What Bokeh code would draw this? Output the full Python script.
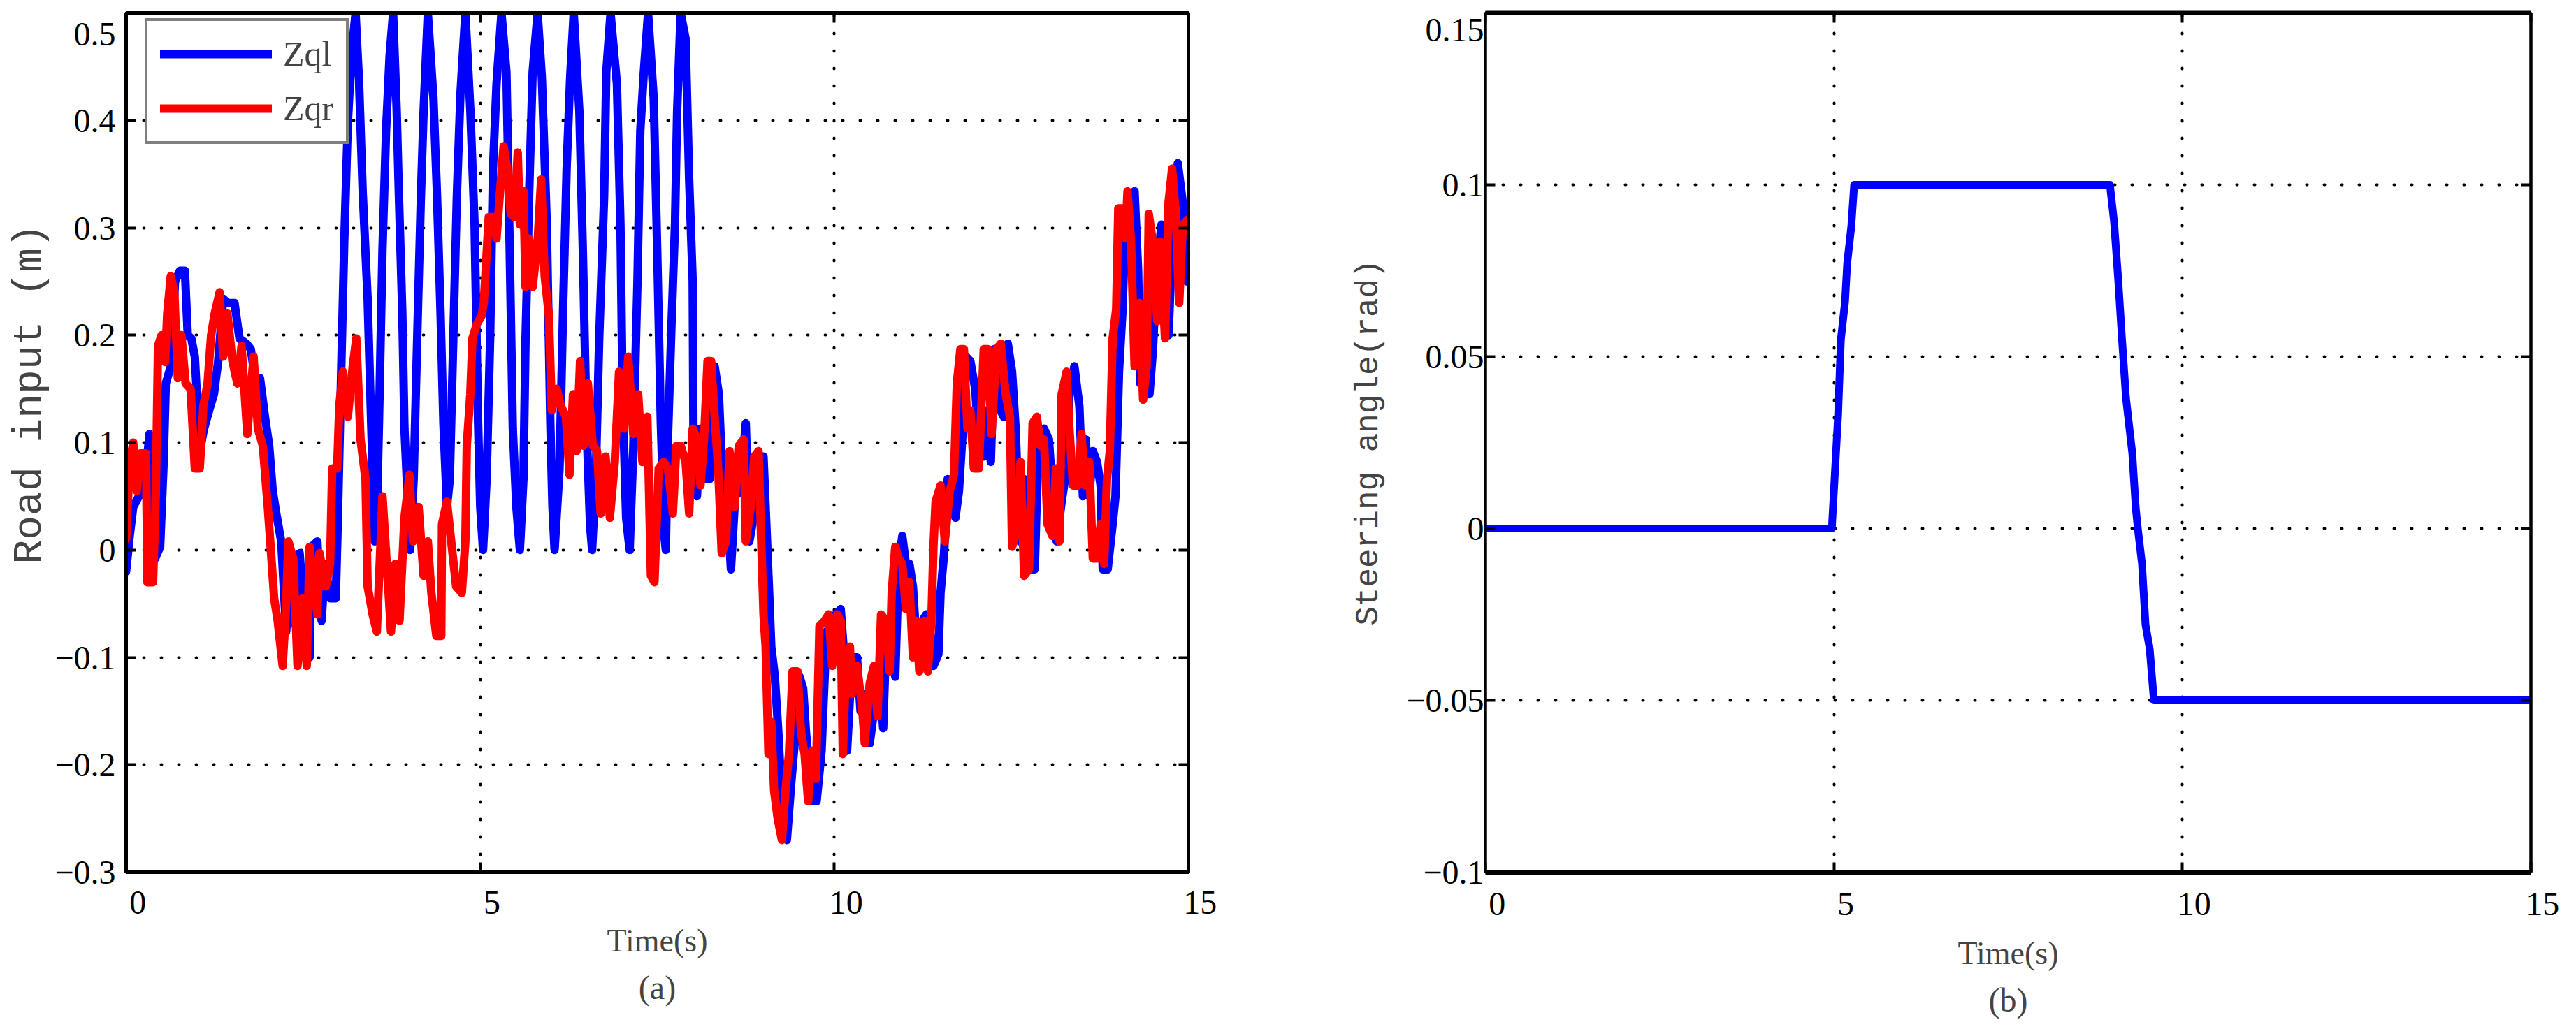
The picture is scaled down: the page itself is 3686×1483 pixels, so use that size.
from bokeh.plotting import figure
from bokeh.models import Range1d, FixedTicker, LinearAxis, Legend, LegendItem, Title
from bokeh.layouts import row
from bokeh.embed import file_html
from bokeh.resources import INLINE

# ---------------- data: panel (a) road input ----------------
zqr_t = [0.0, 0.05, 0.1, 0.15, 0.2, 0.28, 0.3, 0.38, 0.42, 0.45, 0.5, 0.55, 0.58, 0.63, 0.68, 0.73, 0.78, 0.84,
         0.91, 0.97, 1.04, 1.09, 1.15, 1.2, 1.25, 1.32, 1.37, 1.43, 1.5, 1.57, 1.63, 1.71, 1.8, 1.86, 1.93, 2.0,
         2.04, 2.09, 2.14, 2.21, 2.26, 2.29, 2.36, 2.42, 2.49, 2.55, 2.59, 2.65, 2.7, 2.73, 2.82, 2.88, 2.91, 2.98,
         3.01, 3.06, 3.13, 3.2, 3.25, 3.31, 3.38, 3.41, 3.48, 3.54, 3.62,
         3.74, 3.8, 3.86, 3.93, 4.0, 4.05, 4.13, 4.2, 4.26, 4.31, 4.38, 4.45, 4.46, 4.53, 4.59, 4.66, 4.74, 4.79,
         4.81, 4.86, 4.89, 4.95, 5.02, 5.05, 5.12, 5.18, 5.23, 5.28, 5.33, 5.38, 5.43, 5.48, 5.53, 5.56, 5.61, 5.64,
         5.69, 5.74, 5.81, 5.86, 5.91, 5.97, 6.01, 6.08, 6.14, 6.21, 6.26, 6.31, 6.36, 6.41, 6.46, 6.52, 6.59, 6.65,
         6.7, 6.77, 6.83, 6.9, 6.96, 7.03, 7.09, 7.16, 7.23, 7.29, 7.36, 7.41,
         7.46, 7.52, 7.59, 7.65, 7.72, 7.77, 7.83, 7.9, 7.95, 8.0, 8.06, 8.11, 8.16, 8.21, 8.26, 8.31, 8.36, 8.41,
         8.47, 8.52, 8.59, 8.65, 8.72, 8.75, 8.82, 8.87, 8.93, 8.97, 9.0, 9.03, 9.07, 9.11, 9.15, 9.2, 9.26, 9.31,
         9.36, 9.41, 9.48, 9.53, 9.58, 9.63, 9.69, 9.74, 9.79, 9.86, 9.92, 9.97, 10.04, 10.09, 10.12, 10.17, 10.22,
         10.25, 10.32, 10.39, 10.43, 10.5, 10.56, 10.61, 10.66, 10.73, 10.78, 10.81, 10.86, 10.91, 10.96, 11.01,
         11.06, 11.11, 11.16,
         11.2, 11.27, 11.32, 11.37, 11.4, 11.43, 11.5, 11.56, 11.63, 11.69, 11.73, 11.78, 11.83, 11.88, 11.92,
         11.97, 12.04, 12.11, 12.17, 12.22, 12.29, 12.35, 12.42, 12.48, 12.51, 12.58, 12.63, 12.68, 12.75, 12.8,
         12.86, 12.91, 12.96, 13.01, 13.08, 13.13, 13.18, 13.21, 13.28, 13.32, 13.37, 13.44, 13.49, 13.54, 13.6,
         13.65, 13.71, 13.76, 13.81, 13.85, 13.89, 13.93, 13.98, 14.01, 14.06, 14.11, 14.14, 14.19, 14.24, 14.31,
         14.36, 14.41, 14.44, 14.49, 14.56, 14.6, 14.67, 14.72, 14.77, 14.82, 14.87, 14.92, 15.0]
zqr_v = [0.01, 0.08, 0.10, 0.055, 0.09, 0.09, -0.03, -0.03, 0.055, 0.19, 0.20, 0.175, 0.22, 0.255, 0.24, 0.16, 0.20,
         0.155, 0.15, 0.076, 0.076, 0.134, 0.155, 0.20, 0.22, 0.24, 0.18, 0.22, 0.176, 0.155, 0.19, 0.108, 0.18,
         0.113, 0.097, 0.04, 0.003, -0.045, -0.066, -0.108, -0.05, 0.008, -0.008, -0.108, -0.045, -0.108, 0.003,
         -0.03, -0.06, -0.003, -0.034, -0.013, 0.076, 0.076, 0.134, 0.166, 0.124, 0.171, 0.197, 0.103, 0.066,
         -0.034, -0.06, -0.076, 0.05,
         -0.076, -0.013, -0.066, 0.03, 0.07, 0.008, 0.04, -0.024, 0.008, -0.04, -0.08, -0.08, 0.024, 0.045, 0.008,
         -0.034, -0.04, 0.008, 0.097, 0.145, 0.197, 0.21, 0.218, 0.23, 0.31, 0.31, 0.29, 0.334, 0.376, 0.355,
         0.313, 0.31, 0.37, 0.303, 0.334, 0.245, 0.29, 0.245, 0.287, 0.345, 0.255, 0.218, 0.13, 0.15, 0.134, 0.124,
         0.07, 0.145, 0.092, 0.176, 0.097, 0.155, 0.097, 0.092, 0.034, 0.087, 0.03, 0.082, 0.166, 0.113, 0.18,
         0.108, 0.145, 0.082, 0.124, -0.024,
         -0.03, 0.076, 0.082, 0.076, 0.034, 0.097, 0.097, 0.082, 0.034, 0.113, 0.103, 0.06, 0.103, 0.176, 0.176,
         0.124, 0.076, -0.003, 0.008, 0.092, 0.04, 0.097, 0.103, 0.008, 0.04, 0.087, 0.092, 0.003, -0.06, -0.09,
         -0.19, -0.16, -0.224, -0.25, -0.27, -0.224, -0.19, -0.113, -0.113, -0.17, -0.19, -0.234, -0.187, -0.213,
         -0.071, -0.066, -0.06, -0.108, -0.06, -0.066, -0.19, -0.1, -0.09, -0.134, -0.108, -0.145, -0.18, -0.124,
         -0.108, -0.155, -0.06, -0.066, -0.113, -0.04, 0.003, -0.008, -0.013, -0.055, -0.03, -0.1, -0.066,
         -0.113, -0.066, -0.113, -0.066, 0.003, 0.045, 0.06, 0.008, 0.055, 0.07, 0.155, 0.187, 0.187, 0.113, 0.13,
         0.076, 0.076, 0.187, 0.187, 0.108, 0.187, 0.192, 0.145, 0.124, 0.003, 0.018, 0.082, -0.024, -0.018, 0.118,
         0.124, 0.097, 0.103, 0.024, 0.013, 0.076, 0.008, 0.145, 0.166, 0.113, 0.06, 0.06, 0.108, 0.06, 0.082,
         -0.008, -0.008, 0.024, -0.013, 0.066, 0.092, 0.197, 0.224, 0.318, 0.318, 0.29, 0.334, 0.287, 0.171, 0.23,
         0.14, 0.171, 0.313, 0.29, 0.213, 0.287, 0.197, 0.324, 0.355, 0.313, 0.23, 0.303, 0.308]

zql_t = [0.0, 0.05, 0.1, 0.18, 0.25, 0.33, 0.38, 0.41, 0.48, 0.53, 0.56, 0.63, 0.69, 0.76, 0.83, 0.87, 0.92, 0.97,
         1.04, 1.1, 1.19, 1.24, 1.3, 1.37, 1.43, 1.53, 1.6, 1.7, 1.76, 1.83, 1.89, 1.96, 2.02, 2.07, 2.12, 2.19,
         2.26, 2.32, 2.39, 2.45, 2.52, 2.59, 2.62, 2.7, 2.76, 2.81, 2.88, 2.96, 2.99, 3.04, 3.08, 3.13, 3.18, 3.24,
         3.29, 3.34, 3.41, 3.46, 3.51, 3.54, 3.57, 3.62, 3.67, 3.72, 3.77,
         3.82, 3.85, 3.9, 3.93, 3.98, 4.01, 4.06, 4.11, 4.16, 4.2, 4.26, 4.34, 4.39, 4.44, 4.48, 4.53, 4.57, 4.62,
         4.67, 4.72, 4.79, 4.86, 4.92, 4.97, 5.0, 5.04, 5.09, 5.14, 5.18, 5.23, 5.3, 5.37, 5.41, 5.46, 5.51, 5.56,
         5.61, 5.64, 5.69, 5.74, 5.81, 5.87, 5.94, 5.99, 6.02, 6.05, 6.12, 6.17, 6.22, 6.27, 6.32, 6.4, 6.45, 6.5,
         6.55, 6.58, 6.63, 6.68, 6.75, 6.78, 6.84, 6.93, 6.98, 7.01, 7.06, 7.11, 7.16, 7.22, 7.26, 7.31, 7.37, 7.45,
         7.5, 7.55, 7.6,
         7.62, 7.65, 7.7, 7.75, 7.78, 7.83, 7.9, 7.95, 8.0, 8.01, 8.06, 8.11, 8.18, 8.24, 8.31, 8.37, 8.41, 8.47,
         8.54, 8.6, 8.67, 8.75, 8.8, 8.87, 8.93, 9.0, 9.03, 9.08, 9.11, 9.16, 9.21, 9.26, 9.33, 9.39, 9.44, 9.51,
         9.56, 9.6, 9.69, 9.75, 9.82, 9.89, 9.95, 10.02, 10.09, 10.13, 10.18, 10.25, 10.32, 10.37, 10.43, 10.5,
         10.56, 10.63, 10.69, 10.74, 10.81, 10.86, 10.91, 10.96, 11.01, 11.06, 11.11, 11.17,
         11.24, 11.3, 11.34, 11.4, 11.47, 11.5, 11.55, 11.6, 11.66, 11.71, 11.76, 11.81, 11.86, 11.92, 11.99,
         12.04, 12.11, 12.16, 12.21, 12.26, 12.32, 12.39, 12.45, 12.51, 12.56, 12.62, 12.68, 12.73, 12.78, 12.83,
         12.88, 12.96, 13.03, 13.08, 13.14, 13.21, 13.28, 13.32, 13.39, 13.46, 13.51, 13.55, 13.6, 13.65, 13.71,
         13.76, 13.79, 13.86, 13.93, 13.97, 14.02, 14.07, 14.11, 14.17, 14.24, 14.29, 14.32, 14.39, 14.45, 14.5,
         14.55, 14.62, 14.67, 14.72, 14.78, 14.85, 14.9, 14.93, 14.98, 15.0]
zql_v = [-0.02, 0.013, 0.04, 0.05, 0.055, 0.108, 0.103, -0.008, 0.003, 0.082, 0.155, 0.171, 0.25, 0.26, 0.26, 0.2,
         0.197, 0.18, 0.092, 0.113, 0.134, 0.145, 0.176, 0.234, 0.23, 0.23, 0.197, 0.192, 0.187, 0.155, 0.16, 0.124,
         0.097, 0.055, 0.034, 0.008, -0.076, -0.024, -0.07, -0.003, -0.066, -0.1, 0.003, 0.008, -0.066, -0.013,
         -0.045, -0.045, 0.03, 0.176, 0.287, 0.397, 0.46, 0.5, 0.434, 0.334, 0.234, 0.118, 0.008, 0.03, 0.118, 0.28,
         0.39, 0.46, 0.5,
         0.41, 0.334, 0.22, 0.113, 0.04, 0.0, 0.066, 0.197, 0.324, 0.408, 0.5, 0.42, 0.33, 0.22, 0.118, 0.04, 0.066,
         0.197, 0.33, 0.424, 0.5, 0.41, 0.303, 0.118, 0.04, 0.0, 0.066, 0.197, 0.355, 0.434, 0.5, 0.445, 0.303,
         0.113, 0.04, 0.0, 0.066, 0.197, 0.33, 0.445, 0.5, 0.44, 0.303, 0.118, 0.04, 0.0, 0.076, 0.224, 0.355, 0.44,
         0.5, 0.408, 0.276, 0.118, 0.024, 0.0, 0.066, 0.197, 0.33, 0.445, 0.5, 0.434, 0.303, 0.145, 0.03, 0.0, 0.092,
         0.25, 0.39, 0.445, 0.5, 0.42, 0.276, 0.118, 0.013,
         0.0, 0.103, 0.208, 0.303, 0.408, 0.5, 0.476, 0.345, 0.25, 0.113, 0.05, 0.113, 0.066, 0.066, 0.171, 0.145,
         0.082, 0.06, -0.018, 0.05, 0.055, 0.118, 0.008, 0.034, 0.087, 0.087, 0.04, -0.04, -0.09, -0.118, -0.17,
         -0.234, -0.27, -0.218, -0.18, -0.118, -0.129, -0.17, -0.234, -0.234, -0.187, -0.076, -0.071, -0.06, -0.055,
         -0.09, -0.187, -0.1, -0.1, -0.15, -0.134, -0.18, -0.15, -0.118, -0.166, -0.066, -0.066, -0.118, -0.013,
         0.013, -0.013, -0.013, -0.034, -0.097,
         -0.066, -0.06, -0.066, -0.108, -0.097, -0.04, -0.003, 0.066, 0.06, 0.03, 0.055, 0.108, 0.18, 0.176, 0.15,
         0.097, 0.087, 0.13, 0.082, 0.187, 0.134, 0.124, 0.192, 0.166, 0.113, 0.008, 0.066, 0.008, -0.018, -0.018,
         0.097, 0.113, 0.103, 0.055, 0.008, 0.045, 0.076, 0.145, 0.171, 0.134, 0.05, 0.103, 0.05, 0.092, 0.082,
         0.06, -0.018, -0.018, 0.024, 0.05, 0.166, 0.224, 0.303, 0.324, 0.334, 0.26, 0.155, 0.23, 0.145, 0.187,
         0.26, 0.303, 0.29, 0.2, 0.303, 0.36, 0.334, 0.318, 0.25, 0.25]

# ---------------- data: panel (b) steering angle ----------------
steer_t = [0.0, 4.97, 5.0, 5.06, 5.1, 5.16, 5.19, 5.25, 5.29, 8.96, 9.02, 9.08, 9.13, 9.19, 9.28, 9.33, 9.36,
           9.42, 9.47, 9.53, 9.59, 15.0]
steer_v = [0.0, 0.0, 0.011, 0.033, 0.055, 0.066, 0.077, 0.088, 0.1, 0.1, 0.089, 0.072, 0.056, 0.038, 0.022, 0.006,
           0.0, -0.0104, -0.028, -0.035, -0.05, -0.05]

# ticks
x_ticks = [0, 5, 10, 15]
ya_ticks = [-0.3, -0.2, -0.1, 0, 0.1, 0.2, 0.3, 0.4, 0.5]
ya_labels = ["\u22120.3", "\u22120.2", "\u22120.1", "0", "0.1", "0.2", "0.3", "0.4", "\n0.5"]
yb_ticks = [-0.1, -0.05, 0, 0.05, 0.1, 0.15]
yb_labels = ["\u22120.1", "\u22120.05", "0", "0.05", "0.1", "\n0.15"]

SERIF = "Liberation Serif"
MONO = "Liberation Mono"
XPAD = "\u2002\u2009"


def style_axis(ax, ticks, overrides=None, show=True, line_w=5, tick_w=4):
    ax.ticker = FixedTicker(ticks=ticks)
    ax.major_tick_in = 14
    ax.major_tick_out = 0
    ax.major_tick_line_width = tick_w
    ax.major_tick_line_color = "black"
    ax.minor_tick_line_color = None
    ax.axis_line_width = line_w
    ax.axis_line_color = "black"
    if show:
        ax.major_label_text_font = SERIF
        ax.major_label_text_font_size = "48px"
        ax.major_label_text_color = "black"
        if overrides:
            ax.major_label_overrides = overrides
    else:
        ax.major_label_text_font_size = "0px"
        ax.major_label_text_color = None
        ax.major_label_standoff = 0


def style_grid(p, xt, yt):
    p.xgrid.ticker = FixedTicker(ticks=xt)
    p.ygrid.ticker = FixedTicker(ticks=yt)
    for g in (p.xgrid, p.ygrid):
        g.grid_line_color = "black"
        g.grid_line_width = 4
        g.grid_line_dash = "1 24"
        g.grid_line_cap = "round"


# ---------------- panel (a) ----------------
p1 = figure(width=1842, height=1467, output_backend="svg", toolbar_location=None,
            x_range=Range1d(0, 15), y_range=Range1d(-0.3, 0.5),
            min_border_left=180, min_border_right=142, min_border_top=18, min_border_bottom=219,
            background_fill_color="white", border_fill_color="white")
p1.outline_line_color = "black"
p1.outline_line_width = 5

style_axis(p1.xaxis[0], x_ticks, {t: XPAD + str(t) for t in x_ticks})
style_axis(p1.yaxis[0], ya_ticks, dict(zip(ya_ticks, ya_labels)))
p1.yaxis[0].major_label_text_line_height = 0.41
p1.xaxis[0].major_label_standoff = 16
p1.yaxis[0].major_label_standoff = 15
p1.xaxis[0].axis_label = "Time(s)"
p1.xaxis[0].axis_label_text_font = SERIF
p1.xaxis[0].axis_label_text_font_size = "46px"
p1.xaxis[0].axis_label_text_font_style = "normal"
p1.xaxis[0].axis_label_standoff = 0
p1.yaxis[0].axis_label = "\u00a0\u00a0\u00a0\u00a0Road input (m)"
p1.yaxis[0].axis_label_text_font = MONO
p1.yaxis[0].axis_label_text_font_size = "58px"
p1.yaxis[0].axis_label_text_font_style = "normal"
p1.yaxis[0].axis_label_standoff = 0

ax_top = LinearAxis()
ax_right = LinearAxis()
style_axis(ax_top, x_ticks, show=False)
style_axis(ax_right, ya_ticks, show=False)
p1.add_layout(ax_top, "above")
p1.add_layout(ax_right, "right")
style_grid(p1, x_ticks, ya_ticks)

rb = p1.line(zql_t, zql_v, line_color="#0000FF", line_width=12, line_join="round", line_cap="round")
rr = p1.line(zqr_t, zqr_v, line_color="#FF0000", line_width=12, line_join="round", line_cap="round")

legend = Legend(items=[LegendItem(label="Zql", renderers=[rb]), LegendItem(label="Zqr", renderers=[rr])],
                location=(27, 1042), orientation="vertical")
legend.border_line_color = "black"
legend.border_line_width = 4
legend.background_fill_color = "white"
legend.background_fill_alpha = 1.0
legend.padding = 18
legend.spacing = 20
legend.margin = 0
legend.glyph_width = 160
legend.glyph_height = 50
legend.label_height = 50
legend.label_standoff = 16
legend.label_text_font = SERIF
legend.label_text_font_size = "50px"
p1.add_layout(legend, "center")

p1.add_layout(Title(text="(a)", align="center", text_font=SERIF, text_font_size="48px",
                    text_font_style="normal", standoff=20), "below")

# ---------------- panel (b) ----------------
p2 = figure(width=1828, height=1467, output_backend="svg", toolbar_location=None,
            x_range=Range1d(0, 15), y_range=Range1d(-0.1, 0.15),
            min_border_left=283, min_border_right=49, min_border_top=18, min_border_bottom=219,
            background_fill_color="white", border_fill_color="white")
p2.outline_line_color = "black"
p2.outline_line_width = 4

style_axis(p2.xaxis[0], x_ticks, {t: XPAD + str(t) for t in x_ticks}, line_w=7)
style_axis(p2.yaxis[0], yb_ticks, dict(zip(yb_ticks, yb_labels)), line_w=4)
p2.yaxis[0].major_label_text_line_height = 0.3
p2.xaxis[0].major_label_standoff = 18
p2.yaxis[0].major_label_standoff = 2
p2.xaxis[0].axis_label = "Time(s)"
p2.xaxis[0].axis_label_text_font = SERIF
p2.xaxis[0].axis_label_text_font_size = "46px"
p2.xaxis[0].axis_label_text_font_style = "normal"
p2.xaxis[0].axis_label_standoff = 16
p2.yaxis[0].axis_label = "Steering angle(rad)"
p2.yaxis[0].axis_label_text_font = MONO
p2.yaxis[0].axis_label_text_font_size = "46px"
p2.yaxis[0].axis_label_text_font_style = "normal"
p2.yaxis[0].axis_label_standoff = 24

bx_top = LinearAxis()
bx_right = LinearAxis()
style_axis(bx_top, x_ticks, show=False, line_w=6)
style_axis(bx_right, yb_ticks, show=False, line_w=4)
p2.add_layout(bx_top, "above")
p2.add_layout(bx_right, "right")
style_grid(p2, x_ticks, yb_ticks)

p2.line(steer_t, steer_v, line_color="#0000FF", line_width=11, line_join="round", line_cap="round")

p2.add_layout(Title(text="(b)", align="center", text_font=SERIF, text_font_size="48px",
                    text_font_style="normal", standoff=20), "below")

layout = row(p1, p2)
open("out.html", "w").write(file_html(layout, INLINE))
